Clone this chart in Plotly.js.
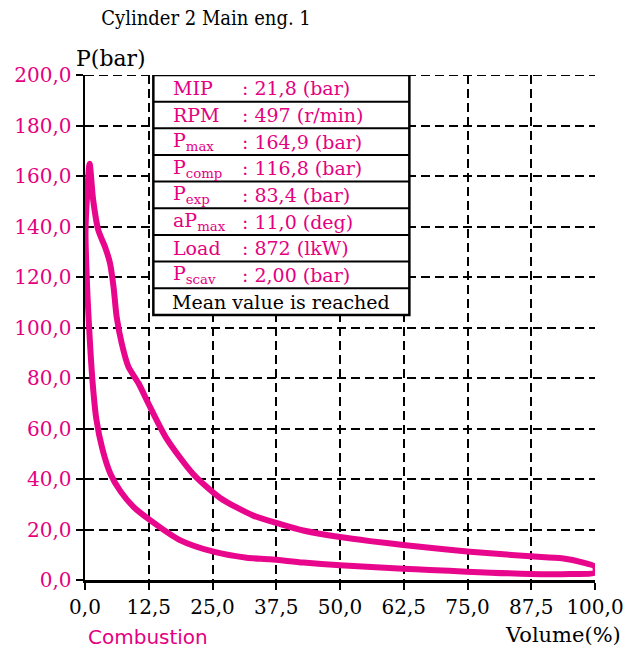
<!DOCTYPE html>
<html>
<head>
<meta charset="utf-8">
<script src="https://cdn.plot.ly/plotly-3.0.1.min.js"></script>
<style>html,body{margin:0;padding:0;background:#fff;}#chart{width:632px;height:650px;}</style>
</head>
<body>
<div id="chart"></div>
<script>
// P-V loop: compression (right to left, lower branch), combustion peak, expansion (upper branch)
var volume = [100, 95.1, 87.3, 74.8, 67.6, 62.4, 50, 42.8, 36.3, 31.7, 25.2, 18.6, 12.7, 9.5, 7.0, 5.0, 3.4, 2.2, 1.5, 1.0, 0.5, 0.2, 0.1, 0.4, 0.9, 1.6, 2.6, 4.0, 4.9, 5.6, 6.2, 7.2, 8.5, 10.5, 12.4, 16, 21.2, 26.5, 33, 38.2, 42.8, 50, 55.9, 62.4, 69, 75.5, 87.3, 93.5, 97.7, 100, 100];
var pressure = [2.9, 2.4, 2.4, 3.3, 4.0, 4.5, 5.8, 6.9, 8.2, 8.8, 11.2, 15.8, 23.8, 29, 35, 42, 52, 64, 78, 93, 112, 128, 138, 152, 164.9, 150.5, 138.6, 131.5, 125.5, 116, 104.3, 93.7, 84.5, 77.9, 70, 56, 42, 32.5, 25.5, 22.2, 19.6, 17.0, 15.4, 13.9, 12.5, 11.2, 9.4, 8.6, 6.9, 5.3, 2.9];

var xTicks = [0, 12.5, 25, 37.5, 50, 62.5, 75, 87.5, 100];
var yTicks = [0, 20, 40, 60, 80, 100, 120, 140, 160, 180, 200];

var tableLabels = ['MIP', 'RPM', 'P<sub>max</sub>', 'P<sub>comp</sub>', 'P<sub>exp</sub>', 'aP<sub>max</sub>', 'Load', 'P<sub>scav</sub>'];
var tableValues = [': 21,8 (bar)', ': 497 (r/min)', ': 164,9 (bar)', ': 116,8 (bar)', ': 83,4 (bar)', ': 11,0 (deg)', ': 872 (lkW)', ': 2,00 (bar)'];
var tableFooter = 'Mean value is reached';

var PINK = '#e4007f';
var SERIF = 'DejaVu Serif';

// table geometry (data coords)
var tX0 = 13.4, tX1 = 63.6, tY1 = 200, tY0 = 105;
var nRows = tableLabels.length + 1;
var rowH = (tY1 - tY0) / nRows;

var shapes = [
  {type: 'line', xref: 'paper', yref: 'y', x0: 0, x1: 1, y0: 200, y1: 200,
   line: {color: '#000', width: 2, dash: '9px,5px'}, layer: 'below'},
  {type: 'rect', xref: 'x', yref: 'y', x0: tX0, x1: tX1, y0: tY0, y1: tY1,
   fillcolor: '#ffffff', line: {color: '#000', width: 2.5}, layer: 'above'}
];
for (var i = 1; i < nRows; i++) {
  shapes.push({type: 'line', xref: 'x', yref: 'y', x0: tX0, x1: tX1, y0: tY1 - i * rowH, y1: tY1 - i * rowH,
    line: {color: '#000', width: 2}, layer: 'above'});
}

var annotations = [];
for (var j = 0; j < tableLabels.length; j++) {
  var yc = tY1 - (j + 0.5) * rowH;
  annotations.push({xref: 'x', yref: 'y', x: 16.9, y: yc, text: tableLabels[j], showarrow: false,
    xanchor: 'left', yanchor: 'middle', font: {family: SERIF, size: 19, color: PINK}});
  annotations.push({xref: 'x', yref: 'y', x: 30.4, y: yc, text: tableValues[j], showarrow: false,
    xanchor: 'left', yanchor: 'middle', font: {family: SERIF, size: 19, color: PINK}});
}
annotations.push({xref: 'x', yref: 'y', x: (tX0 + tX1) / 2, y: tY1 - (nRows - 0.5) * rowH, text: tableFooter,
  showarrow: false, xanchor: 'center', yanchor: 'middle', font: {family: SERIF, size: 19, color: '#000'}});
annotations.push({xref: 'paper', yref: 'paper', x: 0, y: 1, xshift: -11, yshift: 2, text: 'P(bar)', showarrow: false,
  xanchor: 'left', yanchor: 'bottom', font: {family: SERIF, size: 22, color: '#000'}});
annotations.push({xref: 'paper', yref: 'paper', x: 1, y: 0, xshift: 28, yshift: -55, text: 'Volume(%)', showarrow: false,
  xanchor: 'right', yanchor: 'middle', font: {family: SERIF, size: 21, color: '#000'}});
annotations.push({xref: 'paper', yref: 'paper', x: 0, y: 0, xshift: 1, yshift: -57, text: 'Combustion', showarrow: false,
  xanchor: 'left', yanchor: 'middle', font: {family: 'DejaVu Sans', size: 20, color: PINK}});

var trace = {x: volume, y: pressure, type: 'scatter', mode: 'lines',
  line: {color: '#e8078c', width: 6, shape: 'spline', smoothing: 0.7}, hoverinfo: 'skip'};

var axisCommon = {showgrid: true, gridcolor: '#000', griddash: '9px,5px', gridwidth: 2,
  showline: true, linecolor: '#000', linewidth: 2.5, ticks: 'outside', ticklen: 7, tickwidth: 2,
  tickcolor: '#000', zeroline: false, tickformat: '.1f', fixedrange: true};

var layout = {
  width: 632, height: 650,
  margin: {l: 85, r: 37, t: 75, b: 70},
  paper_bgcolor: '#fff', plot_bgcolor: '#fff',
  separators: ',.',
  showlegend: false,
  title: {text: 'Cylinder 2 Main eng. 1', xref: 'container', yref: 'container', x: 0.326, y: 0.972,
    xanchor: 'center', yanchor: 'middle', font: {family: 'DejaVu Serif Condensed', size: 20, color: '#000'}},
  xaxis: Object.assign({}, axisCommon, {range: [0, 100], tickvals: xTicks,
    tickfont: {family: SERIF, size: 20, color: '#000'}}),
  yaxis: Object.assign({}, axisCommon, {range: [0, 200], tickvals: yTicks,
    tickfont: {family: SERIF, size: 20, color: PINK}}),
  shapes: shapes,
  annotations: annotations
};

Plotly.newPlot('chart', [trace], layout, {displayModeBar: false, staticPlot: true});
</script>
</body>
</html>
